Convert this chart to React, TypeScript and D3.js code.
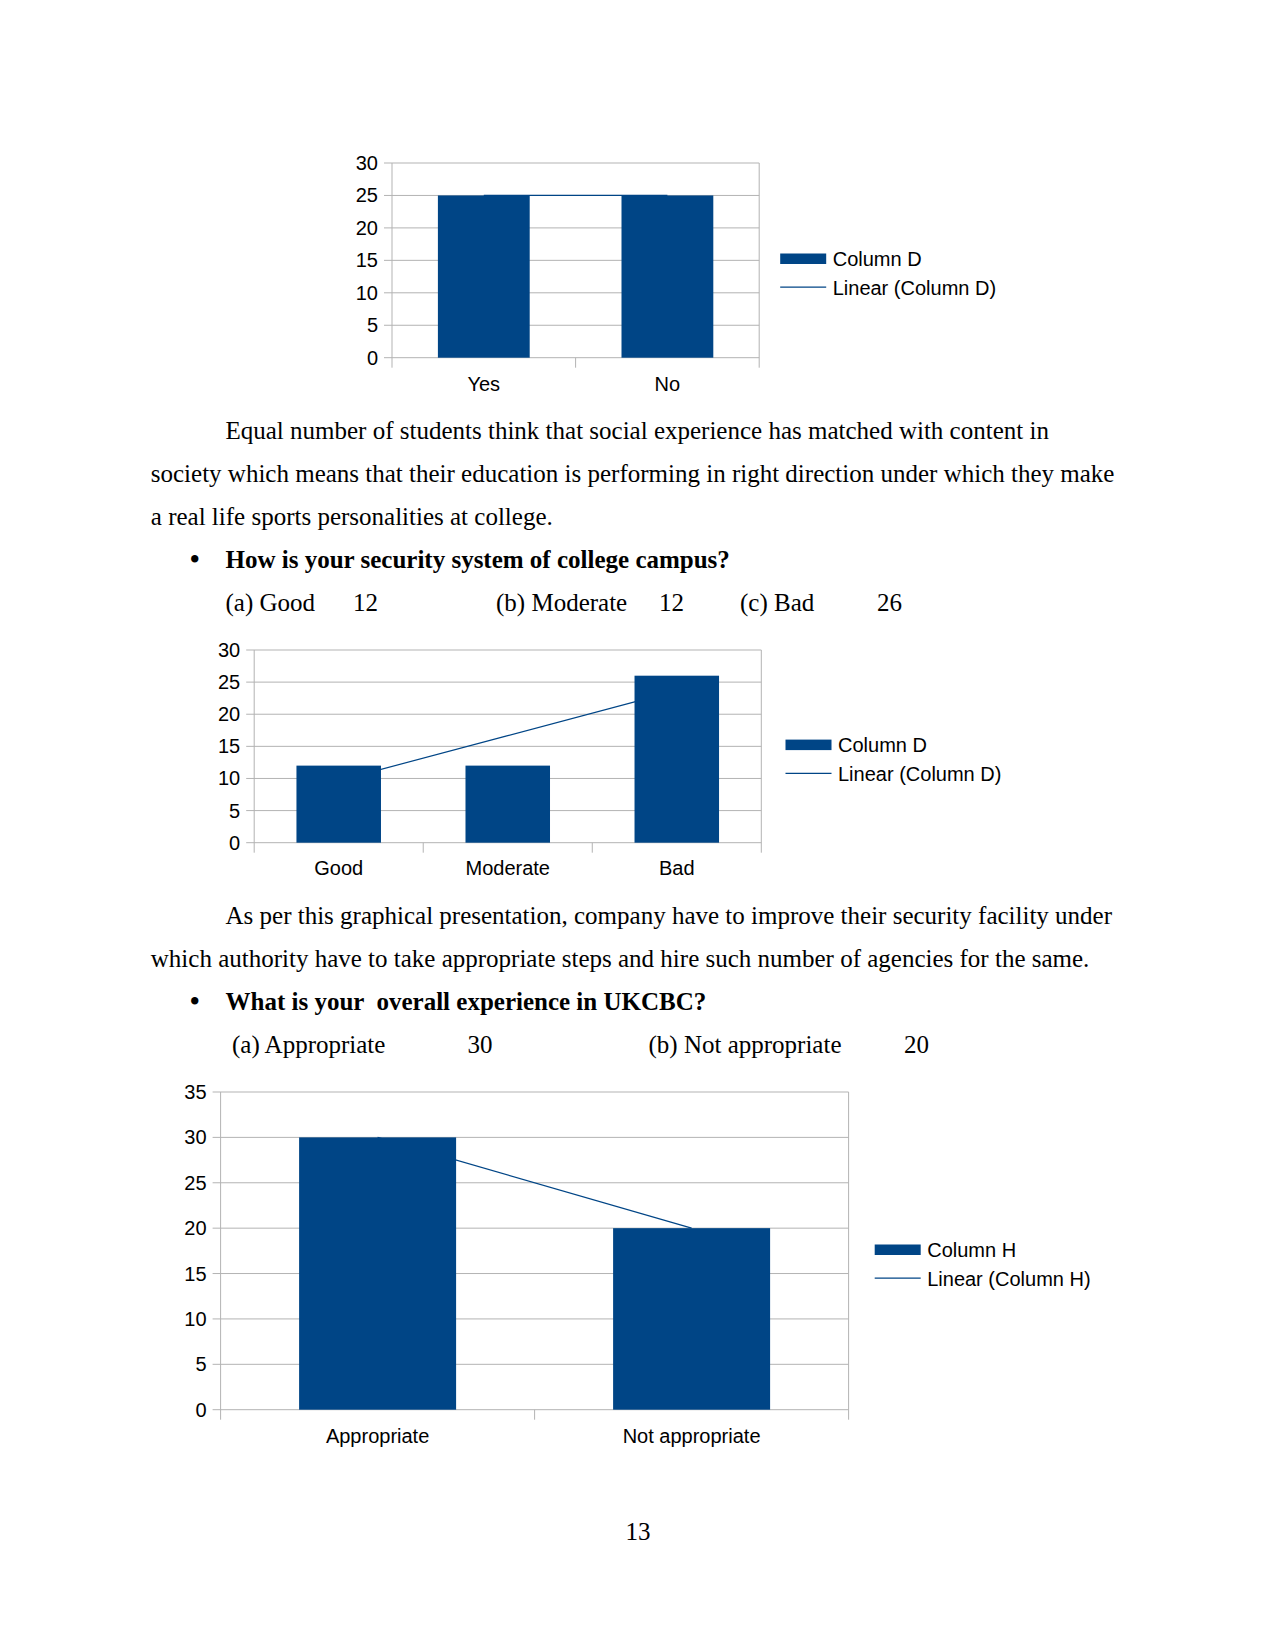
import React from "react";
import * as d3 from "d3";

// ---------- data ----------
const chart1Categories = ["Yes", "No"];
const chart1Values = [25, 25];
const chart1Ticks = [0, 5, 10, 15, 20, 25, 30];

const chart2Categories = ["Good", "Moderate", "Bad"];
const chart2Values = [12, 12, 26];
const chart2Ticks = [0, 5, 10, 15, 20, 25, 30];

const chart3Categories = ["Appropriate", "Not appropriate"];
const chart3Values = [30, 20];
const chart3Ticks = [0, 5, 10, 15, 20, 25, 30, 35];

const para1Lines = [
  "Equal number of students think that social experience has matched with content in",
  "society which means that their education is performing in right direction under which they make",
  "a real life sports personalities at college.",
];
const question1 = "How is your security system of college campus?";
const options1 = [
  { label: "(a) Good", value: "12" },
  { label: "(b) Moderate", value: "12" },
  { label: "(c) Bad", value: "26" },
];
const para2Lines = [
  "As per this graphical presentation, company have to improve their security facility under",
  "which authority have to take appropriate steps and hire such number of agencies for the same.",
];
const question2 = "What is your  overall experience in UKCBC?";
const options2 = [
  { label: "(a) Appropriate", value: "30" },
  { label: "(b) Not appropriate", value: "20" },
];
const pageNumber = "13";

// ---------- styles ----------
const BAR = "#004586";
const GRID = "#b3b3b3";
const SANS = "'Liberation Sans', Arial, sans-serif";
const SERIF = "'Liberation Serif', 'Times New Roman', serif";
const CHART_FONT = 20;

type ChartProps = {
  categories: string[];
  values: number[];
  ticks: number[];
  left: number;
  right: number;
  top: number;
  bottom: number;
  labelY: number;
  legendX: number;
  legendY: number;
  seriesName: string;
};

function BarChart(p: ChartProps) {
  const yMax = p.ticks[p.ticks.length - 1];
  const y = d3.scaleLinear().domain([0, yMax]).range([p.bottom, p.top]);
  const x = d3
    .scaleBand<string>()
    .domain(p.categories)
    .range([p.left, p.right])
    .paddingInner(0.5)
    .paddingOuter(0.25);
  const step = x.step();
  const boundaries = d3.range(p.categories.length + 1).map((i) => p.left + i * step);

  // linear trend (least squares) over category index
  const n = p.values.length;
  const xs = d3.range(1, n + 1);
  const mx = d3.mean(xs)!;
  const my = d3.mean(p.values)!;
  const slope =
    d3.sum(xs.map((xi, i) => (xi - mx) * (p.values[i] - my))) /
    d3.sum(xs.map((xi) => (xi - mx) ** 2));
  const trend = (xi: number) => my + slope * (xi - mx);
  const cx = (i: number) => x(p.categories[i])! + x.bandwidth() / 2;
  const line = d3
    .line<number>()
    .x((i) => cx(i))
    .y((i) => y(trend(i + 1)));

  return (
    <g>
      {p.ticks.map((t) => (
        <g key={t}>
          <line x1={p.left - 8} x2={p.right} y1={y(t)} y2={y(t)} stroke={GRID} strokeWidth={1} />
          <text
            x={p.left - 14}
            y={y(t) + 7}
            textAnchor="end"
            fontFamily={SANS}
            fontSize={CHART_FONT}
            fill="#000"
          >
            {t}
          </text>
        </g>
      ))}
      {boundaries.map((bx, i) => (
        <line
          key={i}
          x1={bx}
          x2={bx}
          y1={i === 0 || i === boundaries.length - 1 ? p.top : p.bottom}
          y2={p.bottom + 10}
          stroke={GRID}
          strokeWidth={1}
        />
      ))}
      <path d={line(d3.range(n))!} fill="none" stroke={BAR} strokeWidth={1.2} />
      {p.categories.map((c, i) => (
        <rect
          key={c}
          x={x(c)!}
          y={y(p.values[i])}
          width={x.bandwidth()}
          height={p.bottom - y(p.values[i])}
          fill={BAR}
        />
      ))}
      {p.categories.map((c) => (
        <text
          key={c}
          x={x(c)! + x.bandwidth() / 2}
          y={p.labelY}
          textAnchor="middle"
          fontFamily={SANS}
          fontSize={CHART_FONT}
          fill="#000"
        >
          {c}
        </text>
      ))}
      <rect x={p.legendX} y={p.legendY} width={46} height={10.5} fill={BAR} />
      <text x={p.legendX + 52.5} y={p.legendY + 12.3} fontFamily={SANS} fontSize={CHART_FONT} fill="#000">
        {p.seriesName}
      </text>
      <line
        x1={p.legendX}
        x2={p.legendX + 46}
        y1={p.legendY + 33.7}
        y2={p.legendY + 33.7}
        stroke={BAR}
        strokeWidth={1.2}
      />
      <text x={p.legendX + 52.5} y={p.legendY + 41} fontFamily={SANS} fontSize={CHART_FONT} fill="#000">
        {`Linear (${p.seriesName})`}
      </text>
    </g>
  );
}

function T(props: { x: number; y: number; bold?: boolean; children: React.ReactNode }) {
  return (
    <text
      x={props.x}
      y={props.y}
      fontFamily={SERIF}
      fontSize={25}
      fontWeight={props.bold ? "bold" : "normal"}
      fill="#000"
      style={{ whiteSpace: "pre" }}
    >
      {props.children}
    </text>
  );
}

export default function App() {
  const opt1X = [225.5, 496, 740];
  const opt1VX = [353, 659, 877];
  const opt2X = [232, 648.5];
  const opt2VX = [467.5, 904];
  return (
    <svg
      width={1275}
      height={1650}
      style={{ position: "absolute", left: 0, top: 0, background: "#fff" }}
    >
      <rect width={1275} height={1650} fill="#fff" />
      <BarChart
        categories={chart1Categories}
        values={chart1Values}
        ticks={chart1Ticks}
        left={392}
        right={759.2}
        top={163}
        bottom={357.7}
        labelY={391}
        legendX={780.2}
        legendY={253.5}
        seriesName="Column D"
      />
      {para1Lines.map((l, i) => (
        <T key={i} x={i === 0 ? 225.5 : 150.8} y={439 + i * 42.8}>
          {l}
        </T>
      ))}
      <text x={190} y={567.7} fontFamily={SERIF} fontSize={27} fontWeight="bold">
        •
      </text>
      <T x={225.5} y={567.7} bold>
        {question1}
      </T>
      {options1.map((o, i) => (
        <g key={i}>
          <T x={opt1X[i]} y={610.8}>
            {o.label}
          </T>
          <T x={opt1VX[i]} y={610.8}>
            {o.value}
          </T>
        </g>
      ))}
      <BarChart
        categories={chart2Categories}
        values={chart2Values}
        ticks={chart2Ticks}
        left={254.2}
        right={761.3}
        top={650}
        bottom={842.7}
        labelY={875}
        legendX={785.5}
        legendY={739.6}
        seriesName="Column D"
      />
      {para2Lines.map((l, i) => (
        <T key={i} x={i === 0 ? 225.5 : 150.8} y={924.3 + i * 43}>
          {l}
        </T>
      ))}
      <text x={190} y={1009.5} fontFamily={SERIF} fontSize={27} fontWeight="bold">
        •
      </text>
      <T x={225.5} y={1009.5} bold>
        {question2}
      </T>
      {options2.map((o, i) => (
        <g key={i}>
          <T x={opt2X[i]} y={1052.6}>
            {o.label}
          </T>
          <T x={opt2VX[i]} y={1052.6}>
            {o.value}
          </T>
        </g>
      ))}
      <BarChart
        categories={chart3Categories}
        values={chart3Values}
        ticks={chart3Ticks}
        left={220.6}
        right={848.6}
        top={1092}
        bottom={1409.7}
        labelY={1443}
        legendX={874.7}
        legendY={1244.5}
        seriesName="Column H"
      />
      <text x={638} y={1540} textAnchor="middle" fontFamily={SERIF} fontSize={25}>
        {pageNumber}
      </text>
    </svg>
  );
}
